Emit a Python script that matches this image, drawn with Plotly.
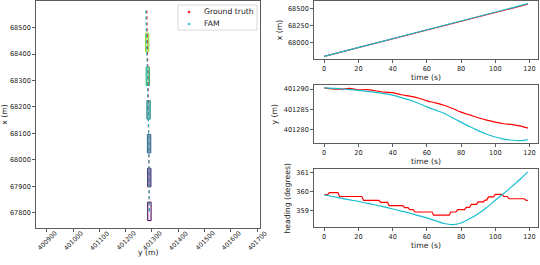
import plotly.graph_objects as go

# ---------------- data ----------------
t = [0, 5, 10, 15, 20, 25, 30, 35, 40, 45, 50, 55, 60, 65, 70, 75, 80, 85, 90, 95, 100, 105, 110, 115, 119]

x_gt = [67805, 67837, 67869, 67901, 67933, 67965, 67997, 68029, 68061, 68093, 68125, 68157, 68189,
        68220, 68252, 68284, 68316, 68348, 68380, 68412, 68444, 68476, 68508, 68540, 68565]
x_fam = [67805, 67837, 67869, 67901, 67933, 67965, 67997, 68029, 68062, 68094, 68126, 68158, 68190,
         68222, 68254, 68286, 68319, 68351, 68383, 68416, 68448, 68481, 68513, 68546, 68573]

y_gt = [401290.3, 401290.05, 401290.0, 401290.2, 401289.8, 401289.9, 401289.6, 401289.25, 401289.15,
        401288.6, 401288.25, 401287.8, 401287.1, 401286.6, 401286.0, 401285.2, 401284.3, 401283.6,
        401282.9, 401282.3, 401281.8, 401281.4, 401281.2, 401280.8, 401280.3]
y_fam = [401290.3, 401290.2, 401290.1, 401289.9, 401289.7, 401289.45, 401289.2, 401288.9, 401288.5,
         401287.9, 401287.3, 401286.5, 401285.6, 401284.8, 401284.0, 401282.9, 401281.8, 401280.7,
         401279.7, 401278.8, 401278.1, 401277.6, 401277.3, 401277.2, 401277.4]

hdg_fam = [359.82, 359.73, 359.64, 359.55, 359.47, 359.37, 359.28, 359.18, 359.07, 358.96, 358.85,
           358.72, 358.60, 358.45, 358.30, 358.24, 358.33, 358.55, 358.82, 359.15, 359.53, 359.90,
           360.28, 360.68, 361.03]

t_hdg_gt = [0, 2, 3, 8, 9, 22, 23, 32, 33, 37, 38, 46, 47, 49, 50, 52, 53, 63, 64, 73, 74, 77, 78, 82,
            83, 85, 86, 89, 90, 93, 94, 95, 96, 99, 100, 104, 105, 107, 108, 117, 118, 119]
hdg_gt = [359.83, 359.83, 359.93, 359.93, 359.73, 359.73, 359.53, 359.53, 359.42, 359.42,
          359.25, 359.25, 359.14, 359.14, 359.04, 359.04, 358.91, 358.91, 358.74, 358.74,
          358.91, 358.91, 359.04, 359.04, 359.15, 359.15, 359.31, 359.31, 359.45, 359.45,
          359.54, 359.54, 359.71, 359.71, 359.84, 359.84, 359.73, 359.73, 359.61, 359.61,
          359.52, 359.52]

snapshot_idx = [0, 4, 8, 12, 16, 20]      # t = 0, 20, 40, 60, 80, 100 s

x_ticks_left = [400900, 401000, 401100, 401200, 401300, 401400, 401500, 401600, 401700]
y_ticks_left = [67800, 67900, 68000, 68100, 68200, 68300, 68400, 68500]
time_ticks = [0, 20, 40, 60, 80, 100, 120]
legend_labels = ["Ground truth", "FAM"]

# ---------------- style ----------------
RED = "#ff0000"
CYAN = "#17becf"
VIRIDIS6 = ["#440154", "#443983", "#31688e", "#21918c", "#35b779", "#90d743"]
FILL_ALPHA = [0.08, 0.6, 0.6, 0.6, 0.6, 0.6]
SHIP_L = 70.0
SHIP_W = 13.0
FONT = "DejaVu Sans"
FS = 7.7        # axis titles / legend
FS_TICK = 6.6   # tick labels
FS_ROT = 6.3    # rotated tick labels of plan view
TXT = "#222"
W, H = 540, 265


def hex_rgba(h, a):
    h = h.lstrip("#")
    return f"rgba({int(h[0:2],16)},{int(h[2:4],16)},{int(h[4:6],16)},{a})"


def pad_range(vals, frac=0.05):
    lo, hi = min(vals), max(vals)
    s = hi - lo
    return [lo - frac * s, hi + frac * s]


def px_x(a, b):
    return [a / W, b / W]


def px_y(top, bottom):
    return [1 - bottom / H, 1 - top / H]


fig = go.Figure()

# ---- left: trajectory plan view ----
for i, k in enumerate(snapshot_idx):
    cx, cy = y_gt[k], x_gt[k]
    xs = [cx - SHIP_W / 2, cx + SHIP_W / 2, cx + SHIP_W / 2, cx - SHIP_W / 2, cx - SHIP_W / 2]
    ys = [cy - SHIP_L / 2, cy - SHIP_L / 2, cy + SHIP_L / 2, cy + SHIP_L / 2, cy - SHIP_L / 2]
    fig.add_trace(go.Scatter(x=xs, y=ys, mode="lines", fill="toself",
                             fillcolor=hex_rgba(VIRIDIS6[i], FILL_ALPHA[i]),
                             line=dict(color=VIRIDIS6[i], width=1),
                             showlegend=False, hoverinfo="skip", xaxis="x", yaxis="y"))

fig.add_trace(go.Scatter(x=y_gt, y=x_gt, mode="lines", line=dict(color=RED, width=1.2, dash="dot"),
                         showlegend=False, xaxis="x", yaxis="y"))
fig.add_trace(go.Scatter(x=y_fam, y=x_fam, mode="lines", line=dict(color=CYAN, width=1.2, dash="dot"),
                         showlegend=False, xaxis="x", yaxis="y"))

# ---- right: x vs time ----
fig.add_trace(go.Scatter(x=t, y=x_gt, mode="lines", line=dict(color=RED, width=1.2),
                         showlegend=False, xaxis="x2", yaxis="y2"))
fig.add_trace(go.Scatter(x=t, y=x_fam, mode="lines", line=dict(color=CYAN, width=1.2),
                         showlegend=False, xaxis="x2", yaxis="y2"))
# ---- right: y vs time ----
fig.add_trace(go.Scatter(x=t, y=y_gt, mode="lines", line=dict(color=RED, width=1.2, shape="spline", smoothing=0.6),
                         showlegend=False, xaxis="x3", yaxis="y3"))
fig.add_trace(go.Scatter(x=t, y=y_fam, mode="lines", line=dict(color=CYAN, width=1.2, shape="spline", smoothing=0.6),
                         showlegend=False, xaxis="x3", yaxis="y3"))
# ---- right: heading vs time ----
fig.add_trace(go.Scatter(x=t_hdg_gt, y=hdg_gt, mode="lines", line=dict(color=RED, width=1.2),
                         showlegend=False, xaxis="x4", yaxis="y4"))
fig.add_trace(go.Scatter(x=t, y=hdg_fam, mode="lines", line=dict(color=CYAN, width=1.2, shape="spline", smoothing=0.6),
                         showlegend=False, xaxis="x4", yaxis="y4"))

base = dict(showline=True, mirror=True, linecolor="#333", linewidth=0.8,
            ticks="outside", ticklen=3, tickwidth=0.8, tickcolor="#333",
            showgrid=False, zeroline=False, tickformat="d", automargin=False,
            tickfont=dict(family=FONT, size=FS_TICK, color=TXT))
tfont = dict(family=FONT, size=FS, color=TXT)

tx = pad_range(t)
left_dom_x = px_x(36, 260)
left_dom_y = px_y(1, 228)

annotations = []
# rotated tick labels of the plan view (centred under each tick, like matplotlib)
for v in x_ticks_left:
    annotations.append(dict(x=v, xref="x", y=left_dom_y[0], yref="paper", text=str(v),
                            textangle=-45, xanchor="center", yanchor="top", yshift=0, borderpad=0,
                            showarrow=False, font=dict(family=FONT, size=FS_ROT, color=TXT)))
annotations.append(dict(x=sum(left_dom_x) / 2, xref="paper", y=1 - 252 / H, yref="paper",
                        text="y (m)", showarrow=False, xanchor="center", yanchor="middle", font=tfont))

# custom legend (compact, matplotlib-like)
shapes = [dict(type="rect", xref="paper", yref="paper",
               x0=178 / W, x1=257 / W, y0=1 - 30 / H, y1=1 - 5 / H,
               line=dict(color="#d0d0d0", width=0.8), fillcolor="rgba(255,255,255,0.8)", layer="above")]
for j, (lab, col) in enumerate(zip(legend_labels, [RED, CYAN])):
    yc = 1 - (12 + 12 * j) / H
    shapes.append(dict(type="circle", xref="paper", yref="paper",
                       x0=188 / W, x1=190 / W, y0=yc - 1 / H, y1=yc + 1 / H,
                       line=dict(color=col, width=0.5), fillcolor=col, layer="above"))
    annotations.append(dict(x=202 / W, xref="paper", y=yc, yref="paper", text=lab,
                            showarrow=False, xanchor="left", yanchor="middle", font=tfont))

fig.update_layout(
    template="none",
    width=W, height=H, margin=dict(l=0, r=0, t=0, b=0),
    paper_bgcolor="white", plot_bgcolor="white",
    font=dict(family=FONT, size=FS, color=TXT),
    showlegend=False, hovermode=False,
    xaxis=dict(base, domain=left_dom_x, range=[400859, 401711], anchor="y",
               tickvals=x_ticks_left, showticklabels=False),
    yaxis=dict(base, domain=left_dom_y, range=[67742, 68601], anchor="x",
               tickvals=y_ticks_left,
               title=dict(text="x (m)", standoff=3, font=tfont)),
    xaxis2=dict(base, domain=px_x(314, 538), range=tx, anchor="y2", tickvals=time_ticks,
                title=dict(text="time (s)", standoff=0, font=tfont)),
    yaxis2=dict(base, domain=px_y(1, 59), range=pad_range(x_gt + x_fam), anchor="x2",
                tickvals=[68000, 68250, 68500],
                title=dict(text="x (m)", standoff=4, font=tfont)),
    xaxis3=dict(base, domain=px_x(314, 538), range=tx, anchor="y3", tickvals=time_ticks,
                title=dict(text="time (s)", standoff=0, font=tfont)),
    yaxis3=dict(base, domain=px_y(85.3, 143.3), range=pad_range(y_gt + y_fam), anchor="x3",
                tickvals=[401280, 401285, 401290],
                title=dict(text="y (m)", standoff=4, font=tfont)),
    xaxis4=dict(base, domain=px_x(314, 538), range=tx, anchor="y4", tickvals=time_ticks,
                title=dict(text="time (s)", standoff=0, font=tfont)),
    yaxis4=dict(base, domain=px_y(169.3, 227.3), range=pad_range(hdg_gt + hdg_fam), anchor="x4",
                tickvals=[359, 360, 361],
                title=dict(text="heading (degrees)", standoff=4, font=tfont)),
    annotations=annotations,
    shapes=shapes,
)

fig.write_html("out.html", config={"displayModeBar": False, "staticPlot": True},
               post_script="document.body.style.margin='0';document.body.style.padding='0';")
